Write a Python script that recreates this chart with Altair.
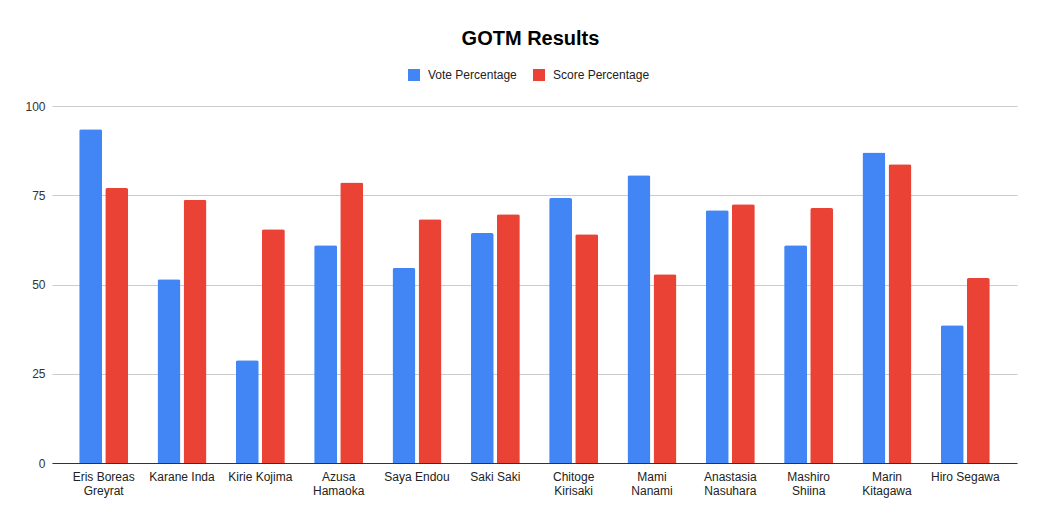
import altair as alt
import pandas as pd

categories = [
    "Eris Boreas\nGreyrat", "Karane Inda", "Kirie Kojima", "Azusa\nHamaoka",
    "Saya Endou", "Saki Saki", "Chitoge\nKirisaki", "Mami\nNanami",
    "Anastasia\nNasuhara", "Mashiro\nShiina", "Marin\nKitagawa", "Hiro Segawa",
]
vote_pct = [93.5, 51.5, 28.8, 61.0, 54.6, 64.4, 74.2, 80.6, 70.8, 61.0, 87.0, 38.6]
score_pct = [77.0, 73.7, 65.5, 78.6, 68.3, 69.7, 64.1, 52.9, 72.5, 71.4, 83.7, 51.8]
series = ["Vote Percentage", "Score Percentage"]
colors = ["#4285F4", "#EA4335"]
y_ticks = [0, 25, 50, 75, 100]

rows = []
for c, v, s in zip(categories, vote_pct, score_pct):
    rows.append({"name": c, "series": series[0], "value": v})
    rows.append({"name": c, "series": series[1], "value": s})
df = pd.DataFrame(rows)

FONT = "Arial, Liberation Sans, sans-serif"

chart = alt.Chart(df).mark_bar(cornerRadiusTopLeft=2, cornerRadiusTopRight=2).encode(
    x=alt.X("name:N", sort=categories, title=None,
            scale=alt.Scale(paddingInner=0.374, paddingOuter=0.347),
            axis=alt.Axis(labelAngle=0, labelExpr="split(datum.label, '\\n')",
                          labelFontSize=12, labelColor="#222222", labelFont=FONT,
                          labelLineHeight=14, labelPadding=8, ticks=False,
                          domainColor="#333333", domainWidth=1, grid=False,
                          labelLimit=200)),
    xOffset=alt.XOffset("series:N", sort=series,
                        scale=alt.Scale(paddingInner=0.12, paddingOuter=0)),
    y=alt.Y("value:Q", title=None,
            scale=alt.Scale(domain=[0, 100], nice=False),
            axis=alt.Axis(values=y_ticks, labelFontSize=12, labelColor="#333333",
                          labelFont=FONT, ticks=False, domain=False,
                          gridColor="#cccccc", labelPadding=7)),
    color=alt.Color("series:N", sort=series,
                    scale=alt.Scale(domain=series, range=colors),
                    legend=alt.Legend(title=None, orient="none", direction="horizontal",
                                      legendX=356, legendY=-37,
                                      symbolType="square", symbolSize=144,
                                      symbolStrokeWidth=0, symbolOpacity=1,
                                      labelFontSize=12, labelColor="#222222",
                                      labelFont=FONT, labelOffset=8,
                                      columnPadding=16)),
).properties(
    width=965,
    height=357,
    title=alt.TitleParams("GOTM Results", fontSize=20, font=FONT, fontWeight="bold",
                          color="#000000", anchor="middle", frame="group", offset=20,
                          dx=-4),
    autosize=alt.AutoSizeParams(type="none"),
    padding={"left": 44, "top": 98, "right": 36, "bottom": 50},
).configure(background="white").configure_view(stroke=None)

chart.save("out.html", embed_options={"renderer": "svg", "actions": False})
